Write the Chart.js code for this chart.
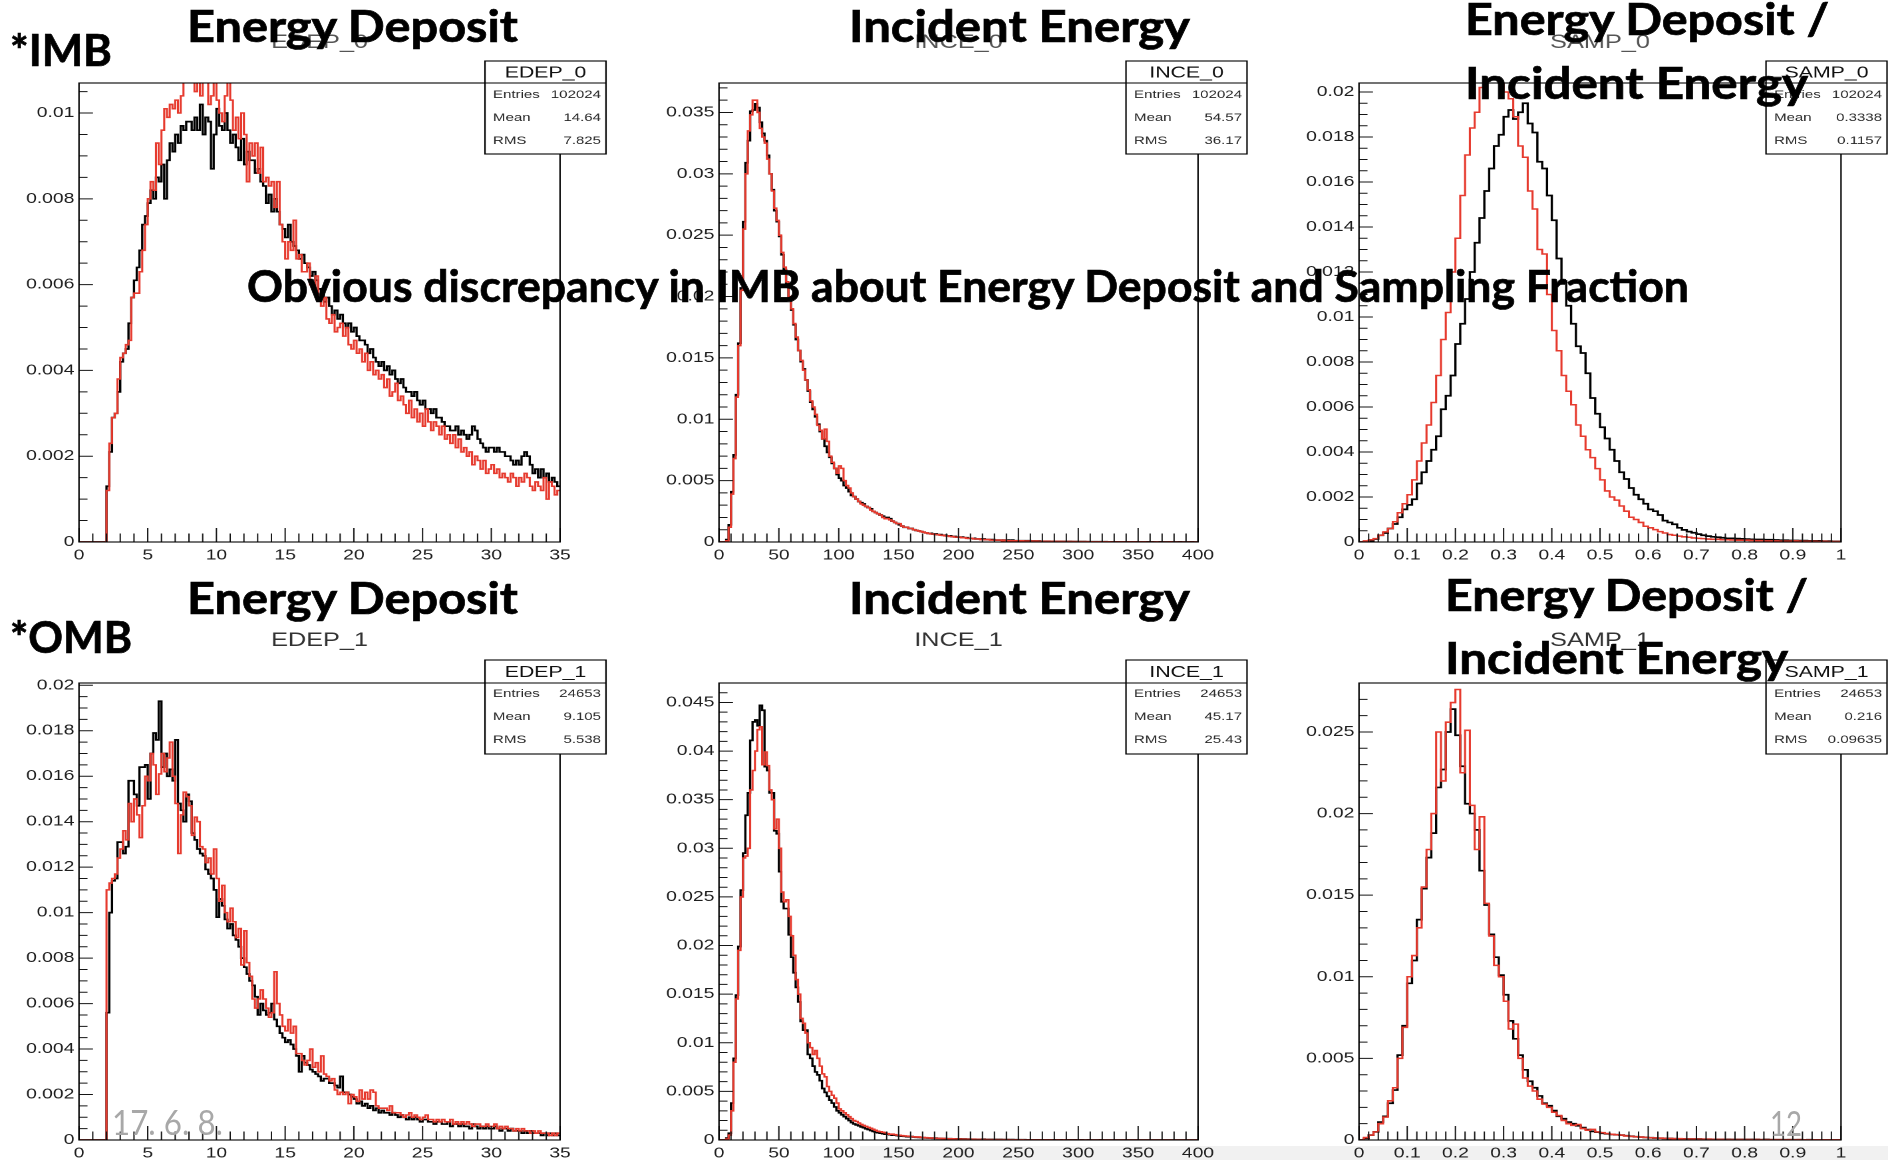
<!DOCTYPE html>
<html lang="en">
<head>
<meta charset="utf-8">
<title>EDEP / INCE / SAMP histograms</title>
<script src="https://cdn.jsdelivr.net/npm/chart.js@4.4.1/dist/chart.umd.min.js"></script>
<style>
  html, body { margin: 0; padding: 0; background: #ffffff; }
  body { position: relative; width: 1888px; height: 1160px; overflow: hidden; }
  canvas.pad { position: absolute; transform-origin: 0 0; z-index: 1; }
  .txt { position: absolute; white-space: nowrap; transform-origin: 0 0; line-height: 1; z-index: 5; }
  .txt.heavy { -webkit-text-stroke: 0.7px #000; }
  #footband { position: absolute; left: 860px; top: 1146px; width: 1028px; height: 14px; background: #f1f1f1; z-index: 0; }
</style>
</head>
<body>
<div id="footband"></div>
<script>
// Bin contents are stored in units of 1e-4 (normalised histograms).
const UNIT = 1e-4;
const EDEP_BIN = 0.2;   // 0..35
const INCE_BIN = 2;     // 0..400
const SAMP_BIN = 0.01;  // 0..1

// ---------- axis tick values ----------
const EDEP_X_TICKS = [0, 5, 10, 15, 20, 25, 30, 35];
const INCE_X_TICKS = [0, 50, 100, 150, 200, 250, 300, 350, 400];
const SAMP_X_TICKS = [0, 0.1, 0.2, 0.3, 0.4, 0.5, 0.6, 0.7, 0.8, 0.9, 1];
const EDEP0_Y_TICKS = [0, 0.002, 0.004, 0.006, 0.008, 0.01];
const INCE0_Y_TICKS = [0, 0.005, 0.01, 0.015, 0.02, 0.025, 0.03, 0.035];
const SAMP0_Y_TICKS = [0, 0.002, 0.004, 0.006, 0.008, 0.01, 0.012, 0.014, 0.016, 0.018, 0.02];
const EDEP1_Y_TICKS = [0, 0.002, 0.004, 0.006, 0.008, 0.01, 0.012, 0.014, 0.016, 0.018, 0.02];
const INCE1_Y_TICKS = [0, 0.005, 0.01, 0.015, 0.02, 0.025, 0.03, 0.035, 0.04, 0.045];
const SAMP1_Y_TICKS = [0, 0.005, 0.01, 0.015, 0.02, 0.025];

// ---------- statistics boxes ----------
const STAT_NAMES = ['Entries', 'Mean', 'RMS'];
const EDEP0_STATS = ['102024', '14.64', '7.825'];
const INCE0_STATS = ['102024', '54.57', '36.17'];
const SAMP0_STATS = ['102024', '0.3338', '0.1157'];
const EDEP1_STATS = ['24653', '9.105', '5.538'];
const INCE1_STATS = ['24653', '45.17', '25.43'];
const SAMP1_STATS = ['24653', '0.216', '0.09635'];

// ---------- IMB: energy deposit (bins of 0.2 from 0) ----------
const EDEP0_BLACK = [
  0,0,0,0,0,0,0,0,0,0,
  13,21,29,30,35,42,44,45,51,57,
  61,64,68,74,76,79,82,80,85,84,
  88,80,89,93,91,95,93,97,96,98,
  98,96,99,96,102,95,99,98,87,95,
  101,97,96,100,96,93,95,92,89,94,
  88,91,89,89,86,87,84,83,79,81,
  77,80,77,74,73,71,74,70,69,68,
  66,67,65,64,62,63,61,59,58,56,
  57,55,53,54,52,53,51,50,51,49,
  50,48,47,47,46,44,45,43,42,41,
  42,40,41,39,40,38,37,38,36,35,
  35,34,35,33,32,33,31,31,30,31,
  29,29,28,27,27,26,26,27,25,26,
  25,24,25,27,26,24,23,22,21,22,
  22,21,22,21,21,20,20,19,18,19,
  18,20,21,20,18,16,17,15,17,15,
  16,14,15,14,13
];
const EDEP0_RED = [
  0,0,0,0,0,0,0,0,0,0,
  12,23,29,30,38,43,44,46,47,57,
  58,58,63,68,74,80,84,82,93,88,
  96,101,99,102,101,103,100,104,109,108,
  108,109,105,109,104,109,108,102,104,109,
  103,100,98,104,109,103,96,99,94,100,
  95,84,93,90,93,86,92,84,85,83,
  84,78,84,74,70,66,70,68,75,66,
  67,63,63,65,60,59,62,57,55,57,
  52,51,53,49,50,51,48,50,46,45,
  47,44,45,42,44,40,42,39,40,38,
  39,36,38,34,35,37,33,34,32,30,
  33,29,31,28,30,27,31,28,26,28,
  27,25,27,24,25,23,25,22,24,21,
  22,20,21,18,20,19,17,19,16,17,
  18,16,17,15,16,15,14,16,15,13,
  15,14,16,15,13,12,14,13,12,15,
  10,14,13,11,12
];

// ---------- IMB: incident energy (bins of 2 from 0) ----------
const INCE0_BLACK = [
  0,0,0,2,14,41,71,120,162,207,
  261,309,327,351,352,357,354,342,333,327,
  315,300,287,270,261,249,234,222,210,198,
  189,177,165,156,147,141,132,123,114,108,
  102,96,90,84,78,73,69,64,60,55,
  52,50,46,44,41,38,37,35,33,32,
  31,29,28,27,25,24,23,22,21,20,
  20,19,17,16,15,14,13,12,12,11,
  11,10,9.5,9,8.5,8,7.5,7,7,6.5,
  6.5,6,6,5.5,5.5,5,5,4.5,4.5,4,
  4,4,3.5,3.5,3,3,3,2.5,2.5,2.5,
  2.5,2,2,2,2,1.5,1.5,1.5,1.5,1.5,
  1.5,1,1.5,1,1,1,1,1,0.8,1,
  0.8,0.8,0.6,0.8,0.6,0.6,0.5,0.6,0.5,0.5,
  0.5,0.4,0.5,0.4,0.4,0.3,0.4,0.3,0.3,0.3,
  0.3,0.2,0.3,0.2,0.2,0.2,0.2,0.2,0.1,0.2,
  0.1,0.2,0.1,0.1,0.1,0.1,0.1,0.1,0.1,0.1,
  0.1,0,0.1,0.1,0,0.1,0,0.1,0,0.1,
  0,0.1,0,0,0.1,0,0,0,0.1,0,
  0,0,0.1,0,0,0,0,0.1,0,0
];
const INCE0_RED = [
  0,0,0,1,12,39,68,118,160,205,
  255,300,335,348,360,360,350,337,330,325,
  312,300,286,272,262,250,236,224,212,200,
  190,178,167,156,148,140,132,124,115,110,
  104,95,91,84,92,82,70,65,60,56,
  62,60,50,46,44,40,37,35,33,31,
  30,29,28,26,25,24,23,22,20,19,
  19,18,17,16,15,15,13,12,12,11,
  11,10,9.5,9,8.5,8,7.5,7,6.5,6.5,
  6,6,5.5,5.5,5,5,4.5,4.5,4,4,
  4,3.5,3.5,3,3,3,2.5,2.5,2.5,2,
  2,2,2,1.5,1.5,1.5,1.5,1.5,1,1.5,
  1,1,1,1,1,0.8,1,0.8,0.8,0.8,
  0.8,0.6,0.8,0.6,0.6,0.6,0.5,0.6,0.5,0.5,
  0.5,0.4,0.5,0.4,0.4,0.4,0.3,0.4,0.3,0.3,
  0.3,0.3,0.2,0.3,0.2,0.2,0.2,0.2,0.2,0.1,
  0.2,0.1,0.2,0.1,0.1,0.1,0.1,0.1,0.1,0.1,
  0.1,0.1,0,0.1,0,0.1,0,0.1,0,0,
  0,0,0.1,0,0,0,0,0,0.1,0,
  0,0,0,0,0,0,0,0,0,0
];

// ---------- IMB: deposit / incident (bins of 0.01 from 0) ----------
const SAMP0_BLACK = [
  0,0.3,0.5,1.3,3,4,6,8,11,14.5,
  16.5,19,26,31,36,41,47,59,65,74,
  88,97,108,120,133,144,156,166,176,181,
  189,192,188,191,195,186,182,169,166,154,
  143,126,116,105,97,87,84,75,64,57,
  51,46,41,36,31,28,24,21,19,17,
  14.5,13.7,12,9.5,8.7,7.9,6.3,5.4,4.6,4.1,
  3.5,3,2.6,2.3,2.1,1.9,1.6,1.6,1.5,1.4,
  1.3,1.2,1.1,1.1,1,1,0.9,0.8,0.8,0.7,
  0.7,0.6,0.6,0.5,0.5,0.5,0.4,0.4,0.3,0.3
];
const SAMP0_RED = [
  0,0.5,1,1.5,3,4.5,6,9,13,17,
  21,27.6,36,44,52,62,74,90,102,120,
  135,154,172,184,191,202,210,210,208,205,
  200,197,189,176,171,156,148,130,128,110,
  94,85,74,67,61,52,47,41,37.5,32.6,
  27.6,22.7,20,18.6,16,13.7,11,10,8.7,7,
  6.3,5.5,4.6,4,3.3,3,2.6,2.3,2.1,1.8,
  1.6,1.5,1.3,1.2,1.2,1,1,0.9,0.8,0.8,
  0.8,0.7,0.6,0.6,0.5,0.5,0.5,0.4,0.4,0.4,
  0.5,0.4,0.3,0.3,0.3,0.2,0.3,0.2,0.2,0.2
];

// ---------- OMB: energy deposit ----------
const EDEP1_BLACK = [
  0,0,0,0,0,0,0,0,0,0,
  56,100,114,115,131,131,126,129,158,158,
  152,147,164,164,165,150,170,179,176,193,
  164,170,160,163,158,176,148,145,140,152,
  149,135,132,128,126,125,119,117,115,110,
  98,106,103,97,93,95,90,88,85,80,
  76,73,70,68,63,55,60,57,55,56,
  60,53,50,47,45,43,44,42,40,37,
  30,37,34,33,31,30,29,28,26,27,
  27,25,25,24,23,28,21,21,20,19,
  18,16,17,15,16,14,15,13,14,12,
  13,12,12,11,12,11,10,11,10,9,
  10,9,10,9,8,9,9,8,8,7,
  8,8,7,7,8,6,7,7,6,7,
  6,6,5,7,6,5,6,5,6,5,
  5,6,5,4,5,5,4,5,4,4,
  4,3,4,3,4,3,3,3,2,3,
  2,3,2,3,2
];
const EDEP1_RED = [
  0,0,0,0,0,0,0,0,0,0,
  110,113,115,117,124,128,136,132,148,140,
  150,143,133,147,160,158,170,165,152,161,
  170,162,168,175,160,148,126,143,153,151,
  147,134,142,140,129,128,122,124,117,128,
  115,105,112,100,96,102,96,89,93,77,
  92,78,72,62,58,62,66,62,58,54,
  56,74,60,55,50,48,53,47,50,38,
  38,35,33,35,40,32,34,30,37,29,
  28,26,27,22,20,21,20,21,16,20,
  19,17,22,18,21,18,22,21,15,14,
  14,14,13,15,12,12,12,11,10,11,
  12,10,11,10,9,10,11,9,9,8,
  9,8,9,8,8,9,7,8,7,8,
  7,8,7,6,7,7,6,6,7,6,
  6,7,5,6,5,6,5,5,4,5,
  4,5,4,4,3,4,3,4,3,3,
  3,2,3,2,3
];

// ---------- OMB: incident energy ----------
const INCE1_BLACK = [
  0,0,0,2,7,38,84,149,199,257,
  295,334,357,411,430,432,426,447,442,384,
  380,357,357,318,315,276,245,238,238,211,
  188,172,157,142,122,113,113,88,84,76,
  70,67,61,53,49,45,41,38,34,30,
  28,26,24,22,20,18,16.5,15.5,14.6,13.5,
  12.7,11.5,10.8,9.8,8.8,8,7.5,7,6.5,6,
  6,5.5,5,5,4.6,4.2,4,3.8,3.5,3.3,
  3.5,3,2.8,2.7,2.5,2.3,2.2,2,1.9,1.8,
  1.9,1.7,1.6,1.5,1.4,1.3,1.3,1.2,1.1,1.2,
  1.2,1,1,0.9,0.9,0.8,0.8,0.7,0.7,0.6,
  0.8,0.6,0.6,0.5,0.5,0.5,0.4,0.5,0.4,0.4,
  0.4,0.3,0.4,0.3,0.3,0.3,0.2,0.3,0.2,0.2,
  0.2,0.2,0.2,0.1,0.2,0.1,0.1,0.2,0.1,0.1,
  0.1,0.1,0.1,0.1,0,0.1,0.1,0,0.1,0,
  0,0.1,0,0,0.1,0,0,0,0,0.1,
  0,0,0,0,0,0,0,0,0,0,
  0,0,0,0,0,0,0,0,0,0,
  0,0,0,0,0,0,0,0,0,0,
  0,0,0,0,0,0,0,0,0,0
];
const INCE1_RED = [
  0,0,0,1,5,30,80,145,195,250,
  290,292,300,360,380,400,422,425,386,399,
  385,360,350,320,330,300,255,245,247,230,
  210,190,165,150,125,120,110,100,95,88,
  92,84,76,68,65,55,50,46,43,38,
  32,30,28,26,24,22,20,19,17.5,16,
  15,14,13,12,11,10,9,8.5,8,7.5,
  6.5,6,6,5.5,5,4.8,4.5,4.2,4,3.8,
  3.5,3.3,3,3.2,2.7,2.5,2.4,2.2,2,2,
  1.8,1.7,1.6,1.5,1.4,1.3,1.3,1.2,1.1,1,
  1,0.9,0.9,0.8,0.8,0.7,0.7,0.6,0.6,0.5,
  0.5,0.5,0.4,0.4,0.4,0.3,0.4,0.3,0.3,0.2,
  0.3,0.2,0.2,0.2,0.2,0.1,0.2,0.1,0.1,0.1,
  0.1,0.1,0.1,0.1,0.1,0,0.1,0,0.1,0,
  0,0.1,0,0,0.1,0,0,0,0,0,
  0,0,0,0,0,0,0,0,0,0,
  0,0,0,0,0,0,0,0,0,0,
  0,0,0,0,0,0,0,0,0,0,
  0,0,0,0,0,0,0,0,0,0,
  0,0,0,0,0,0,0,0,0,0
];

// ---------- OMB: deposit / incident ----------
const SAMP1_BLACK = [
  0,1,3,5,11,14.5,22.5,30.6,52,70,
  96,110,135,154,173,188,216,227,250,264,
  248,229,206,200,190,165,144,126,112,101,
  89,73,62,52,43,36,32,27,22.5,21,
  18,14.5,13,11,10,8.7,7.6,6.4,5.3,4.8,
  4.1,3.8,3.4,3.2,3,2.6,2.3,2,1.8,1.6,
  1.4,1.2,1.1,1,0.9,0.8,0.7,0.7,0.6,0.6,
  0.6,0.5,0.5,0.4,0.4,0.4,0.4,0.3,0.3,0.3,
  0.3,0.3,0.3,0.2,0.3,0.2,0.2,0.2,0.2,0.2,
  0.2,0.2,0.1,0.2,0.1,0.1,0.1,0.1,0.1,0.1
];
const SAMP1_RED = [
  0,1.5,3,5,10,14,24,32,50,69,
  100,113,130,155,178,200,250,220,256,268,
  276,225,251,205,178,198,145,125,107,100,
  85,68,71,50,38,33,30,25,22,20,
  17,15,12,10,9,9.5,7,6,6.5,5,
  4.5,4,3.5,3.2,3,2.5,2.2,2,1.8,1.6,
  1.4,1.3,1.1,1,0.9,0.8,0.8,0.7,0.6,0.6,
  0.5,0.5,0.5,0.4,0.4,0.4,0.3,0.3,0.3,0.3,
  0.3,0.2,0.3,0.2,0.2,0.2,0.2,0.2,0.1,0.2,
  0.1,0.2,0.1,0.1,0.1,0.1,0.1,0.1,0.1,0.1
];

// ---------- slide headings ----------
const HEADINGS = [
  { text: '*IMB', x: 10, base: 66, w: 102 },
  { text: 'Energy Deposit', x: 187, base: 42, w: 331 },
  { text: 'Incident Energy', x: 849, base: 42, w: 341 },
  { text: 'Energy Deposit /', x: 1465, base: 35, w: 364 },
  { text: 'Incident Energy', x: 1465, base: 99, w: 343 },
  { text: 'Obvious discrepancy in IMB about Energy Deposit and Sampling Fraction', x: 247, base: 302, w: 1442 },
  { text: '*OMB', x: 10, base: 653, w: 122 },
  { text: 'Energy Deposit', x: 187, base: 614, w: 331 },
  { text: 'Incident Energy', x: 849, base: 614, w: 341 },
  { text: 'Energy Deposit /', x: 1445, base: 611, w: 363 },
  { text: 'Incident Energy', x: 1445, base: 674, w: 343 },
  { text: '17. 6. 8.', x: 112, base: 1135, w: 111, weight: 400, size: 34, color: '#a8a8a8' },
  { text: '12', x: 1770, base: 1136, w: 32, weight: 400, size: 34, color: '#a8a8a8' }
];

// ---------- pad layout (page pixels) ----------
const RED = '#e63a2e';
const S_TARGET = 1.33; // plot pads are stretched horizontally
const COLS = [
  { x: 0,    w: 620, l: 79,   r: 560,  bl: 485,  br: 606 },
  { x: 640,  w: 620, l: 719,  r: 1198, bl: 1126, br: 1247 },
  { x: 1280, w: 608, l: 1359, r: 1841, bl: 1766, br: 1887 }
];
const ROWS = [
  { y: 20,  h: 560, t: 83,  b: 542,  bt: 61,  bb: 154, title: 43,  titleColor: '#555' },
  { y: 610, h: 550, t: 683, b: 1140, bt: 660, bb: 754, title: 641, titleColor: '#333' }
];

const PANELS = [
  { name: 'EDEP_0', col: 0, row: 0, xMax: 35,  yMax: 0.0107, xTicks: EDEP_X_TICKS, xMinor: 5, yTicks: EDEP0_Y_TICKS, yMinor: 4, bin: EDEP_BIN, black: EDEP0_BLACK, red: EDEP0_RED, stats: EDEP0_STATS },
  { name: 'INCE_0', col: 1, row: 0, xMax: 400, yMax: 0.0374, xTicks: INCE_X_TICKS, xMinor: 5, yTicks: INCE0_Y_TICKS, yMinor: 5, bin: INCE_BIN, black: INCE0_BLACK, red: INCE0_RED, stats: INCE0_STATS },
  { name: 'SAMP_0', col: 2, row: 0, xMax: 1,   yMax: 0.0204, xTicks: SAMP_X_TICKS, xMinor: 5, yTicks: SAMP0_Y_TICKS, yMinor: 4, bin: SAMP_BIN, black: SAMP0_BLACK, red: SAMP0_RED, stats: SAMP0_STATS },
  { name: 'EDEP_1', col: 0, row: 1, xMax: 35,  yMax: 0.0201, xTicks: EDEP_X_TICKS, xMinor: 5, yTicks: EDEP1_Y_TICKS, yMinor: 4, bin: EDEP_BIN, black: EDEP1_BLACK, red: EDEP1_RED, stats: EDEP1_STATS },
  { name: 'INCE_1', col: 1, row: 1, xMax: 400, yMax: 0.047,  xTicks: INCE_X_TICKS, xMinor: 5, yTicks: INCE1_Y_TICKS, yMinor: 5, bin: INCE_BIN, black: INCE1_BLACK, red: INCE1_RED, stats: INCE1_STATS },
  { name: 'SAMP_1', col: 2, row: 1, xMax: 1,   yMax: 0.028,  xTicks: SAMP_X_TICKS, xMinor: 5, yTicks: SAMP1_Y_TICKS, yMinor: 5, bin: SAMP_BIN, black: SAMP1_BLACK, red: SAMP1_RED, stats: SAMP1_STATS }
];

// Histogram outline: one point per lower bin edge plus the closing upper edge.
function hist(vals, bin) {
  const pts = vals.map((v, i) => ({ x: i * bin, y: v * UNIT }));
  pts.push({ x: vals.length * bin, y: vals[vals.length - 1] * UNIT });
  return pts;
}

const SANS = '"Liberation Sans", Arial, Helvetica, sans-serif';
const fmt = v => String(parseFloat(Number(v).toFixed(6)));

function makePanel(p) {
  const C = COLS[p.col], R = ROWS[p.row];
  const wL = Math.round(C.w / S_TARGET);
  const s = C.w / wL;
  const hL = R.h;
  const cv = document.createElement('canvas');
  cv.className = 'pad';
  cv.width = wL; cv.height = hL;
  cv.style.left = C.x + 'px';
  cv.style.top = R.y + 'px';
  document.body.appendChild(cv);

  const lx = X => (X - C.x) / s;
  const ly = Y => Y - R.y;
  const fl = lx(C.l), fr = lx(C.r), ft = ly(R.t), fb = ly(R.b);
  const YW = 50, XH = 30;
  const tickFont = { family: SANS, size: 14.5 };

  const padPlugin = {
    id: 'rootPad',
    afterDraw(chart) {
      const ctx = chart.ctx, a = chart.chartArea;
      const xs = chart.scales.x, ys = chart.scales.y;
      ctx.save();
      // tick marks pointing into the frame
      ctx.strokeStyle = '#151515';
      ctx.lineWidth = 1;
      ctx.beginPath();
      const xStep = (p.xTicks[1] - p.xTicks[0]) / p.xMinor;
      const nx = Math.round(p.xMax / xStep);
      for (let k = 0; k <= nx; k++) {
        const px = xs.getPixelForValue(k * xStep);
        const len = (k % p.xMinor === 0) ? 14 : 8.5;
        ctx.moveTo(px, a.bottom); ctx.lineTo(px, a.bottom - len);
      }
      const yStep = (p.yTicks[1] - p.yTicks[0]) / p.yMinor;
      const ny = Math.floor(p.yMax / yStep + 1e-6);
      for (let k = 0; k <= ny; k++) {
        const py = ys.getPixelForValue(k * yStep);
        const len = ((k % p.yMinor === 0) ? 14 : 8.5) / s;
        ctx.moveTo(a.left, py); ctx.lineTo(a.left + len, py);
      }
      ctx.stroke();
      // frame
      ctx.strokeStyle = '#000';
      ctx.lineWidth = 1.1;
      ctx.strokeRect(a.left, a.top, a.right - a.left, a.bottom - a.top);
      // histogram title
      ctx.fillStyle = R.titleColor;
      ctx.font = '19px ' + SANS;
      ctx.textAlign = 'center';
      ctx.textBaseline = 'middle';
      ctx.fillText(p.name, (a.left + a.right) / 2, ly(R.title));
      // statistics box
      const bl = lx(C.bl), br = lx(C.br), bt = ly(R.bt), bb = ly(R.bb), bd = ft;
      ctx.fillStyle = '#fff';
      ctx.fillRect(bl, bt, br - bl, bb - bt);
      ctx.strokeStyle = '#000';
      ctx.lineWidth = 1.1;
      ctx.strokeRect(bl, bt, br - bl, bb - bt);
      ctx.beginPath(); ctx.moveTo(bl, bd); ctx.lineTo(br, bd); ctx.stroke();
      ctx.fillStyle = '#111';
      ctx.font = '16px ' + SANS;
      ctx.fillText(p.name, (bl + br) / 2, (bt + bd) / 2 + 1);
      ctx.font = '11.3px ' + SANS;
      ctx.fillStyle = '#2a2a2a';
      const rowOff = [34, 57, 80];
      p.stats.forEach((v, i) => {
        const y = bt + rowOff[i];
        ctx.textAlign = 'left';
        ctx.fillText(STAT_NAMES[i], bl + 8 / s, y);
        ctx.textAlign = 'right';
        ctx.fillText(v, br - 5 / s, y);
      });
      ctx.restore();
    }
  };

  const line = (label, vals, color, width) => ({
    label, data: hist(vals, p.bin), borderColor: color, borderWidth: width,
    pointRadius: 0, stepped: 'before', fill: false, tension: 0, borderJoinStyle: 'miter'
  });

  new Chart(cv, {
    type: 'line',
    data: { datasets: [line(p.name + ' new', p.red, RED, 1.55), line(p.name, p.black, '#000', 1.7)] },
    options: {
      responsive: false,
      animation: false,
      devicePixelRatio: 2,
      events: [],
      layout: { padding: { left: fl - YW, right: wL - fr, top: ft, bottom: hL - fb - XH } },
      scales: {
        x: {
          type: 'linear', min: 0, max: p.xMax,
          grid: { display: false, drawTicks: false },
          border: { display: false },
          ticks: { font: tickFont, color: '#1e1e1e', padding: 5, autoSkip: false, maxRotation: 0, callback: fmt },
          afterBuildTicks: sc => { sc.ticks = p.xTicks.map(v => ({ value: v })); },
          afterFit: sc => { sc.height = XH; }
        },
        y: {
          type: 'linear', min: 0, max: p.yMax,
          grid: { display: false, drawTicks: false },
          border: { display: false },
          ticks: { font: tickFont, color: '#1e1e1e', padding: 3.5, autoSkip: false, callback: fmt },
          afterBuildTicks: sc => { sc.ticks = p.yTicks.map(v => ({ value: v })); },
          afterFit: sc => { sc.width = YW; }
        }
      },
      plugins: { legend: { display: false }, tooltip: { enabled: false }, title: { display: false } }
    },
    plugins: [padPlugin]
  });
  cv.style.transform = 'scaleX(' + s + ')';
}

PANELS.forEach(makePanel);

// Slide headings: fitted to their measured widths and placed on their baselines.
function placeHeadings() {
  document.querySelectorAll('.txt').forEach(e => e.remove());
  for (const t of HEADINGS) {
    const el = document.createElement('div');
    el.className = 'txt' + ((t.weight || 700) >= 700 ? ' heavy' : '');
    el.style.fontFamily = 'Lato, "Open Sans", sans-serif';
    el.style.fontWeight = t.weight || 700;
    el.style.fontSize = (t.size || 44) + 'px';
    el.style.color = t.color || '#000';
    el.style.left = t.x + 'px';
    el.style.top = '0px';
    const span = document.createElement('span');
    span.textContent = t.text;
    const mark = document.createElement('span');
    mark.style.cssText = 'display:inline-block;width:0;height:0;vertical-align:baseline;';
    el.appendChild(span);
    el.appendChild(mark);
    document.body.appendChild(el);
    const base = mark.offsetTop;
    const w = span.getBoundingClientRect().width;
    el.style.top = (t.base - base) + 'px';
    el.style.transform = 'scaleX(' + (t.w / w) + ')';
  }
}
placeHeadings();
if (document.fonts && document.fonts.ready) document.fonts.ready.then(placeHeadings);
</script>
</body>
</html>
